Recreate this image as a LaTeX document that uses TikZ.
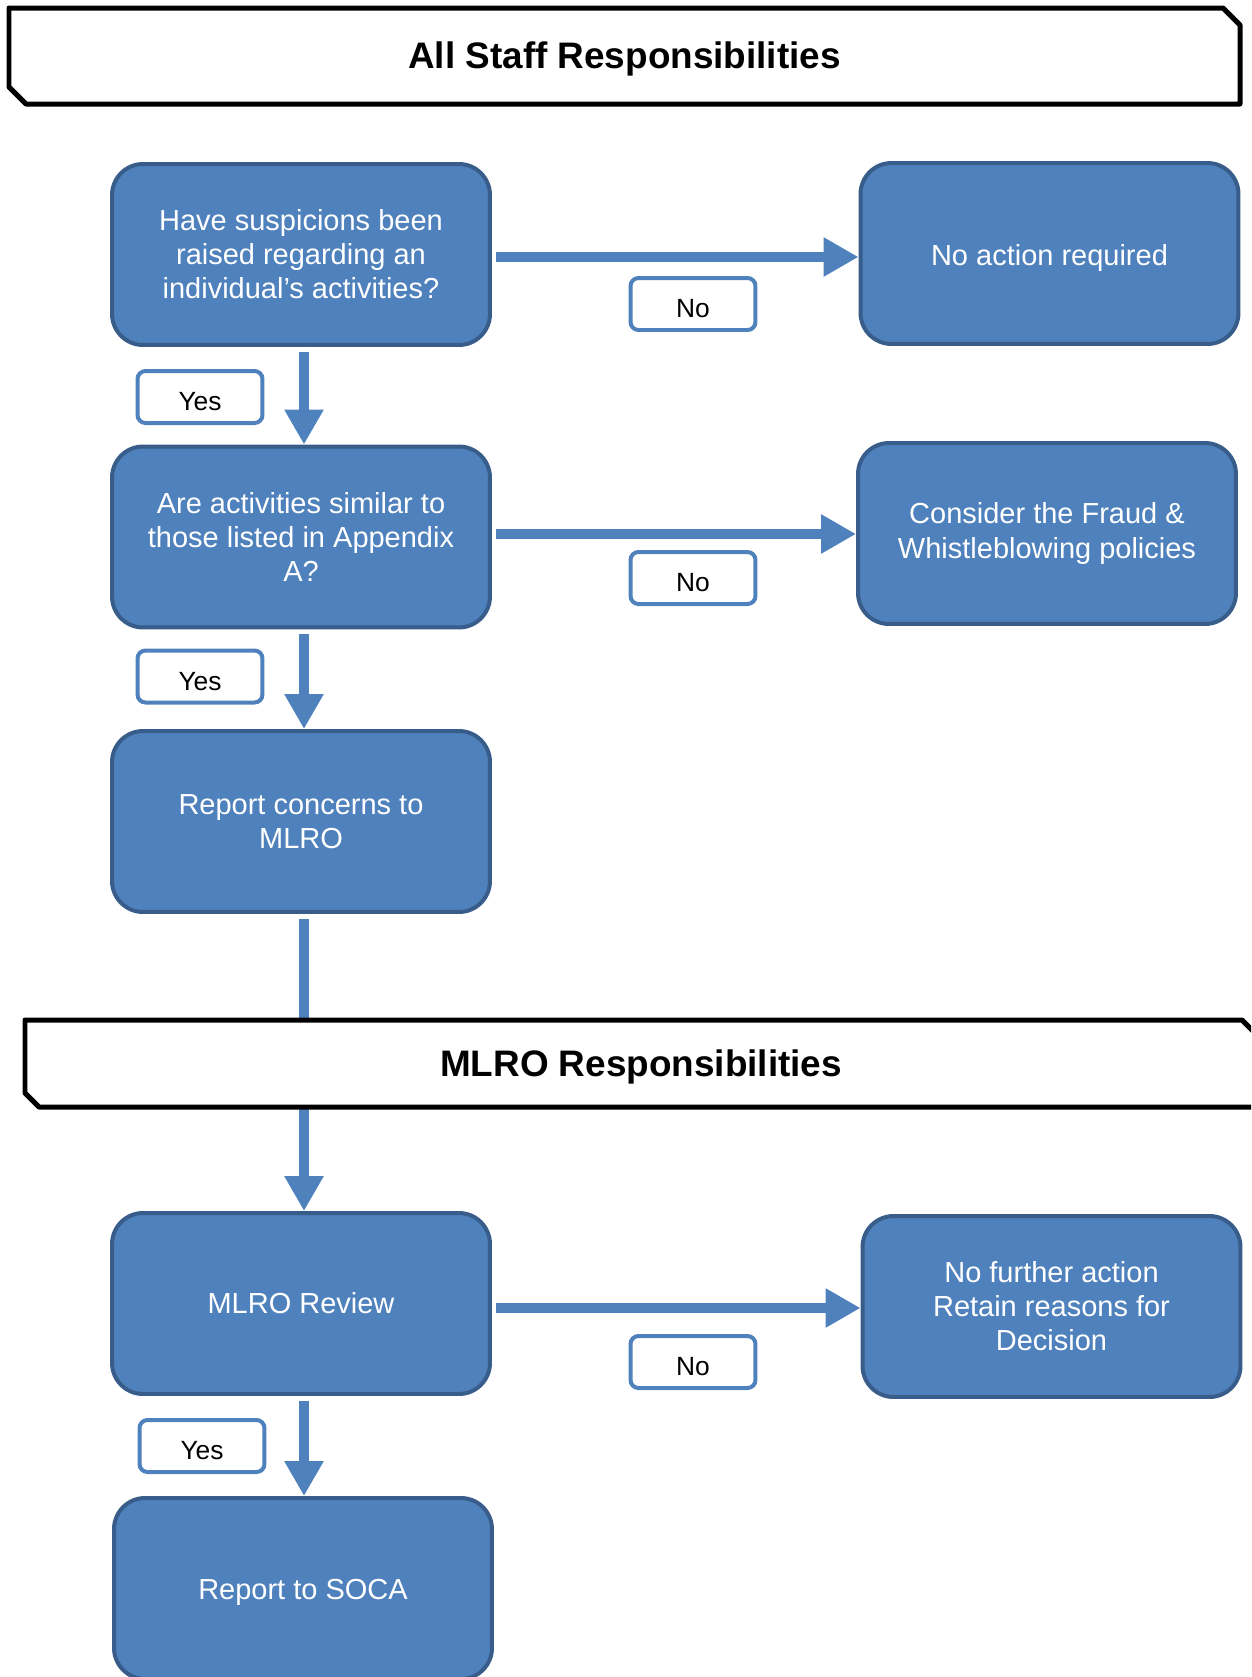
\documentclass[tikz,border=0pt]{standalone}
\usepackage{fontspec}
\setmainfont{Liberation Sans}
\usepackage{tikz}
\usetikzlibrary{arrows.meta, calc}
\definecolor{boxBlue}{RGB}{79,129,189}
\definecolor{boxEdge}{RGB}{56,93,138}

\tikzset{
  stepbox/.style={rectangle, rounded corners=0.62cm, fill=boxBlue, draw=boxEdge, line width=0.08cm,
    minimum width=7.56cm, minimum height=3.62cm, inner sep=0pt, align=center, text=white,
    font=\fontsize{16.5}{19.4}\selectfont},
  answer/.style={rectangle, rounded corners=0.16cm, fill=white, draw=boxBlue, line width=0.08cm,
    minimum width=2.5cm, minimum height=1.04cm, inner sep=0pt, text height=15.4pt, text depth=0pt,
    font=\fontsize{15}{18}\selectfont},
  flow/.style={boxBlue, line width=0.2cm, -{Triangle[width=0.74cm,length=0.7cm]}},
  band/.style={draw=black, fill=white, line width=0.1cm, line join=round},
  bandtitle/.style={font=\fontsize{21}{25}\selectfont\bfseries}
}

\begin{document}
\begin{tikzpicture}[x=0.02cm, y=-0.02cm]
    \clip (0,0) rectangle (1251,1677);
    % header for staff
    \draw[band] (9,8) -- (1223,8) -- (1240,25) -- (1240,104) -- (26,104) -- (9,87) -- cycle;
    \node[bandtitle] (staff) at (624.5,59) {All Staff Responsibilities};

    % staff steps
    \node[stepbox] (q1) at (301,254.5) {Have suspicions been\\raised regarding an\\individual’s activities?};
    \node[stepbox, text height=13.3pt, text depth=0pt] (noact) at (1049.5,253.5) {No action required};
    \node[stepbox] (q2) at (301,537) {Are activities similar to\\those listed in Appendix\\A?};
    \node[stepbox] (consider) at (1047,533.5) {Consider the Fraud \&\\Whistleblowing policies};
    \node[stepbox] (report) at (301,821.5) {Report concerns to\\MLRO};

    % mlro steps
    \node[stepbox] (review) at (301,1303.5) {MLRO Review};
    \node[stepbox] (nofurther) at (1051.5,1306.5) {No further action\\Retain reasons for\\Decision};
    \node[stepbox, text height=12.1pt, text depth=0pt] (soca) at (303,1588.5) {Report to SOCA};

    % connectors
    \coordinate (out1) at ($(q1.east)+(0,2.5)$);
    \coordinate (out2) at ($(q2.east)+(0,-3)$);
    \coordinate (out3) at ($(review.east)+(0,4.5)$);
    \draw[flow, shorten <=0.08cm] (out1) -- (out1 -| noact.west);
    \draw[flow, shorten <=0.08cm] (out2) -- (out2 -| consider.west);
    \draw[flow, shorten <=0.08cm] (out3) -- (out3 -| nofurther.west);
    \coordinate (down1) at ($(q1.south)+(3,0)$);
    \coordinate (down2) at ($(q2.south)+(3,0)$);
    \coordinate (down3) at ($(report.south)+(3,0)$);
    \coordinate (down4) at ($(review.south)+(3,0)$);
    \draw[flow, shorten <=0.1cm] (down1) -- (down1 |- q2.north);
    \draw[flow, shorten <=0.1cm] (down2) -- (down2 |- report.north);
    \draw[flow, shorten <=0.1cm] (down3) -- (down3 |- review.north);
    \draw[flow, shorten <=0.1cm] (down4) -- (down4 |- soca.north);

    % header for mlro, over the line
    \draw[band] (25,1020) -- (1242,1020) -- (1259,1037) -- (1259,1107) -- (39,1107) -- (25,1093) -- cycle;
    \node[bandtitle] (mlro) at (641,1067) {MLRO Responsibilities};

    % answers
    \node[answer] (no1) at (693,304) {No};
    \node[answer] (yes1) at (200,397) {Yes};
    \node[answer] (no2) at (693,578) {No};
    \node[answer] (yes2) at (200,676.5) {Yes};
    \node[answer] (no3) at (693,1362) {No};
    \node[answer] (yes3) at (202,1446) {Yes};
\end{tikzpicture}
\end{document}
